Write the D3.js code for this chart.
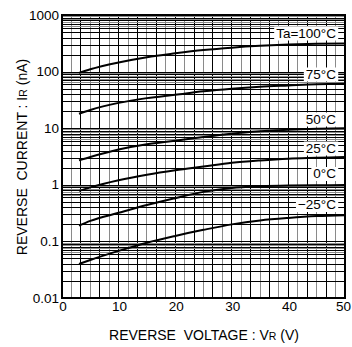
<!DOCTYPE html>
<html>
<head>
<meta charset="utf-8">
<script src="https://cdn.jsdelivr.net/npm/d3@7"></script>
<style>
  body { margin: 0; background: #fff; }
  text { font-family: "Liberation Sans", Arial, sans-serif; fill: #000; }
</style>
</head>
<body>
<script>
// reverse current vs reverse voltage, one curve per ambient temp
var voltage = [3, 5, 10, 15, 20, 25, 30, 35, 40, 45, 50];
var temps = ['Ta=100°C', '75°C', '50°C', '25°C', '0°C', '\u221225°C'];
var ir100 = [95, 110, 145, 180, 210, 240, 265, 285, 300, 310, 315];
var ir75  = [18, 21, 28, 34, 39, 45, 50, 54, 57, 60, 61];
var ir50  = [2.7, 3.1, 4.2, 5.2, 6.0, 7.0, 8.0, 8.8, 9.4, 9.8, 10];
var ir25  = [0.78, 0.9, 1.2, 1.5, 1.8, 2.1, 2.45, 2.7, 2.9, 3.0, 3.1];
var ir0   = [0.19, 0.23, 0.32, 0.44, 0.58, 0.75, 0.88, 0.94, 0.97, 0.98, 0.99];
var irm25 = [0.04, 0.047, 0.068, 0.095, 0.125, 0.16, 0.2, 0.235, 0.26, 0.28, 0.29];
var xTicks = [0, 10, 20, 30, 40, 50];
var yTicks = [0.01, 0.1, 1, 10, 100, 1000];
var yTickLabels = ['0.01', '0.1', '1', '10', '100', '1000'];

var series = [ir100, ir75, ir50, ir25, ir0, irm25];
// label baselines (px) for each curve tag
var labelY = [37.5, 78.5, 123.5, 152.5, 178, 209];

var W = 352, H = 347;
var m = {left: 62, right: 345, top: 15, bottom: 298};

var svg = d3.select('body').append('svg')
  .attr('width', W)
  .attr('height', H);

var x = d3.scaleLinear().domain([0, 50]).range([m.left, m.right]);
var y = d3.scaleLog().domain([0.01, 1000]).range([m.bottom, m.top]);

var grid = svg.append('g');

// vertical grid, 30 divisions, alternating gray / black
d3.range(1, 30).forEach(function(i){
  var v = i * 50 / 30;
  grid.append('line')
    .attr('x1', x(v)).attr('x2', x(v))
    .attr('y1', m.top).attr('y2', m.bottom)
    .attr('stroke', i % 2 ? '#8a8a8a' : '#000')
    .attr('stroke-width', 1)
    .attr('shape-rendering', 'crispEdges');
});

// horizontal log grid
var hl = [];
[0.01, 0.1, 1, 10, 100].forEach(function(d){
  hl.push({v: d, c: '#000'});
  [2, 3, 4, 5, 6, 7, 8, 9].forEach(function(k){ hl.push({v: d * k, c: '#000'}); });
  [6.5, 7.5, 8.5, 9.5].forEach(function(k){ hl.push({v: d * k, c: '#8a8a8a'}); });
});
grid.selectAll('line.h').data(hl).enter().append('line')
  .attr('class', 'h')
  .attr('x1', m.left).attr('x2', m.right)
  .attr('y1', function(d){ return Math.round(y(d.v)) + 0.5; })
  .attr('y2', function(d){ return Math.round(y(d.v)) + 0.5; })
  .attr('stroke', function(d){ return d.c; })
  .attr('stroke-width', 1);

// curves
var line = d3.line()
  .x(function(d, i){ return x(voltage[i]); })
  .y(function(d){ return y(d); })
  .curve(d3.curveMonotoneX);

svg.selectAll('path.curve').data(series).enter().append('path')
  .attr('class', 'curve')
  .attr('d', line)
  .attr('fill', 'none')
  .attr('stroke', '#000')
  .attr('stroke-width', 2);

// curve labels with white boxes
temps.forEach(function(t, i){
  var txt = svg.append('text')
    .attr('x', 336)
    .attr('y', labelY[i])
    .attr('text-anchor', 'end')
    .attr('font-size', '13.5px')
    .text(t);
  var bb = txt.node().getBBox();
  svg.insert('rect', function(){ return txt.node(); })
    .attr('x', bb.x - 2).attr('y', bb.y + 1)
    .attr('width', bb.width + 4).attr('height', bb.height - 1)
    .attr('fill', '#fff');
});

// frame
svg.append('rect')
  .attr('x', m.left).attr('y', m.top)
  .attr('width', m.right - m.left).attr('height', m.bottom - m.top)
  .attr('fill', 'none')
  .attr('stroke', '#000')
  .attr('stroke-width', 2);

// tick labels (last one pulled in so it stays on the page)
svg.selectAll('text.xt').data(xTicks).enter().append('text')
  .attr('class', 'xt')
  .attr('x', function(d, i){ return i === xTicks.length - 1 ? W - 1 : x(d) + 1; })
  .attr('y', 311)
  .attr('text-anchor', function(d, i){ return i === xTicks.length - 1 ? 'end' : 'middle'; })
  .attr('font-size', '13.5px')
  .text(function(d){ return d; });

svg.selectAll('text.yt').data(yTicks).enter().append('text')
  .attr('class', 'yt')
  .attr('x', 59)
  .attr('y', function(d){ return y(d) + 4.5; })
  .attr('text-anchor', 'end')
  .attr('font-size', '13.5px')
  .text(function(d, i){ return yTickLabels[i]; });

// axis titles
var xt = svg.append('text')
  .attr('x', 204).attr('y', 340)
  .attr('text-anchor', 'middle')
  .attr('font-size', '14px')
  .attr('xml:space', 'preserve');
xt.append('tspan').text('REVERSE  VOLTAGE : V');
xt.append('tspan').attr('font-size', '10.5px').text('R');
xt.append('tspan').text(' (V)');

var yt = svg.append('text')
  .attr('transform', 'translate(27,157) rotate(-90)')
  .attr('text-anchor', 'middle')
  .attr('font-size', '14px')
  .attr('xml:space', 'preserve');
yt.append('tspan').text('REVERSE  CURRENT : I');
yt.append('tspan').attr('font-size', '10.5px').text('R');
yt.append('tspan').text(' (nA)');
</script>
</body>
</html>
